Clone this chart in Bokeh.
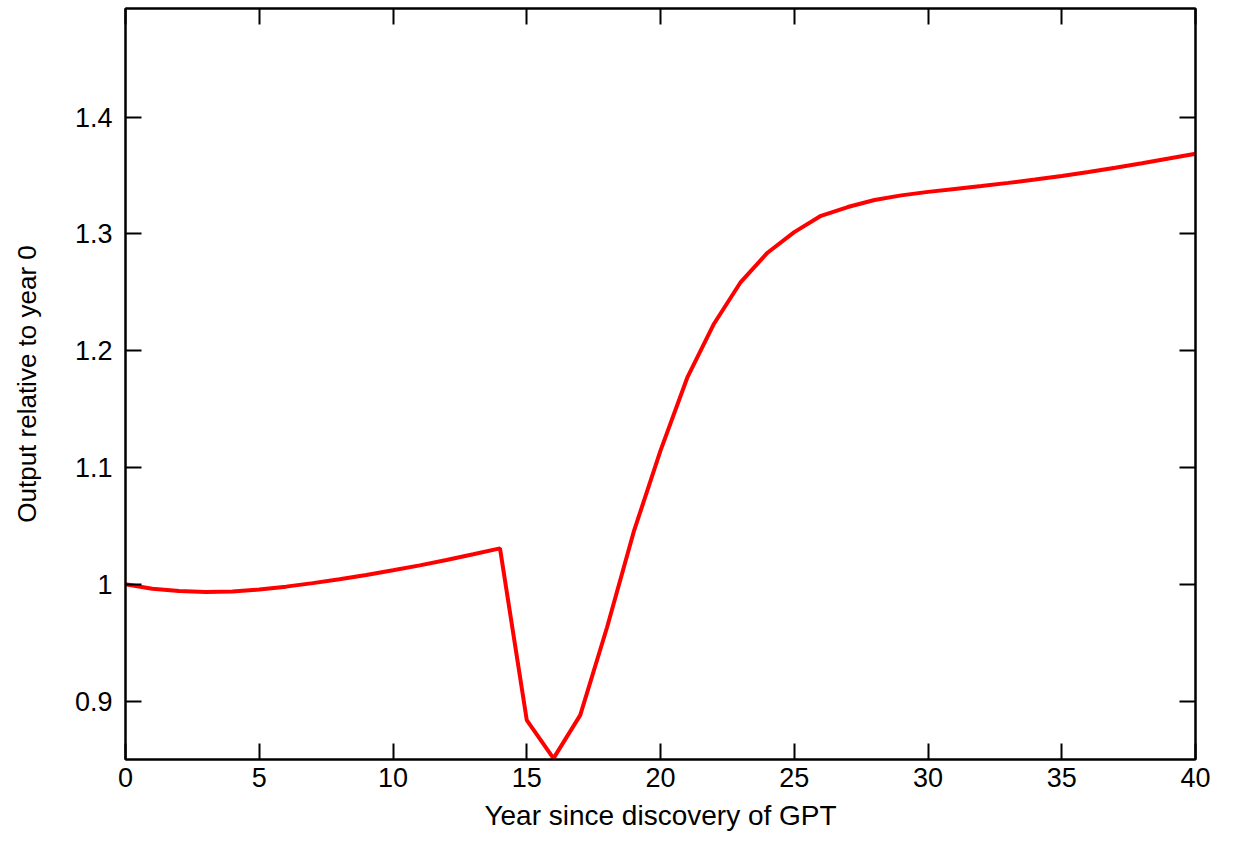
from bokeh.plotting import figure
from bokeh.models import LinearAxis, FixedTicker, Range1d, CustomJSTickFormatter
from bokeh.embed import file_html
from bokeh.resources import INLINE

# ---- data ----
years = list(range(0, 41))
output = [1.000, 0.9962, 0.9942, 0.9934, 0.9938, 0.9955, 0.9980, 1.0010, 1.0043, 1.0080,
          1.0120, 1.0162, 1.0208, 1.0257, 1.0308, 0.8838, 0.8510, 0.8880, 0.9630, 1.0450,
          1.1145, 1.1769, 1.2231, 1.2588, 1.2839, 1.3015, 1.3155, 1.3230, 1.3290, 1.3330,
          1.3360, 1.3385, 1.3410, 1.3437, 1.3465, 1.3496, 1.3530, 1.3567, 1.3605, 1.3645,
          1.3687]
x_ticks = [0, 5, 10, 15, 20, 25, 30, 35, 40]
y_ticks = [0.9, 1.0, 1.1, 1.2, 1.3, 1.4]
y_tick_labels = ["0.9", "1", "1.1", "1.2", "1.3", "1.4"]
x_label = "Year since discovery of GPT"
y_label = "Output relative to year 0"

FONT = "Liberation Sans"

p = figure(width=1227, height=836, output_backend="svg", toolbar_location=None,
           x_range=Range1d(0, 40), y_range=Range1d(0.85, 1.493),
           min_border_left=125, min_border_right=32, min_border_top=8,
           min_border_bottom=77)
p.grid.visible = False
p.outline_line_color = "black"
p.outline_line_width = 2
p.background_fill_color = "white"
p.border_fill_color = "white"

p.line(years, output, line_color="#ff0000", line_width=4)

def style(ax, ticks):
    ax.ticker = FixedTicker(ticks=ticks)
    ax.major_tick_in = 16
    ax.major_tick_out = 0
    ax.minor_tick_in = 0
    ax.minor_tick_out = 0
    ax.major_tick_line_width = 2
    ax.major_tick_line_color = "black"
    ax.axis_line_width = 2
    ax.axis_line_color = "black"
    ax.major_label_text_font = FONT
    ax.major_label_text_font_size = "27px"
    ax.major_label_text_color = "black"
    ax.axis_label_text_font = FONT
    ax.axis_label_text_font_size = "28px"
    ax.axis_label_text_font_style = "normal"
    ax.axis_label_text_color = "black"

xa = p.xaxis[0]
style(xa, x_ticks)
xa.axis_label = x_label
xa.major_label_standoff = 8
xa.axis_label_standoff = 10

ya = p.yaxis[0]
style(ya, y_ticks)
ya.axis_label = y_label
ya.axis_label_text_font_size = "26px"
ya.major_label_standoff = 13
ya.axis_label_standoff = 30
ya.major_label_overrides = {t: l for t, l in zip(y_ticks, y_tick_labels)}

top = LinearAxis()
style(top, x_ticks)
top.formatter = CustomJSTickFormatter(code="return ''")
top.major_label_standoff = 0
top.major_label_text_font_size = "0px"
p.add_layout(top, "above")

right = LinearAxis()
style(right, y_ticks)
right.formatter = CustomJSTickFormatter(code="return ''")
right.major_label_standoff = 0
right.major_label_text_font_size = "0px"
p.add_layout(right, "right")

open("out.html", "w").write(file_html(p, INLINE))
